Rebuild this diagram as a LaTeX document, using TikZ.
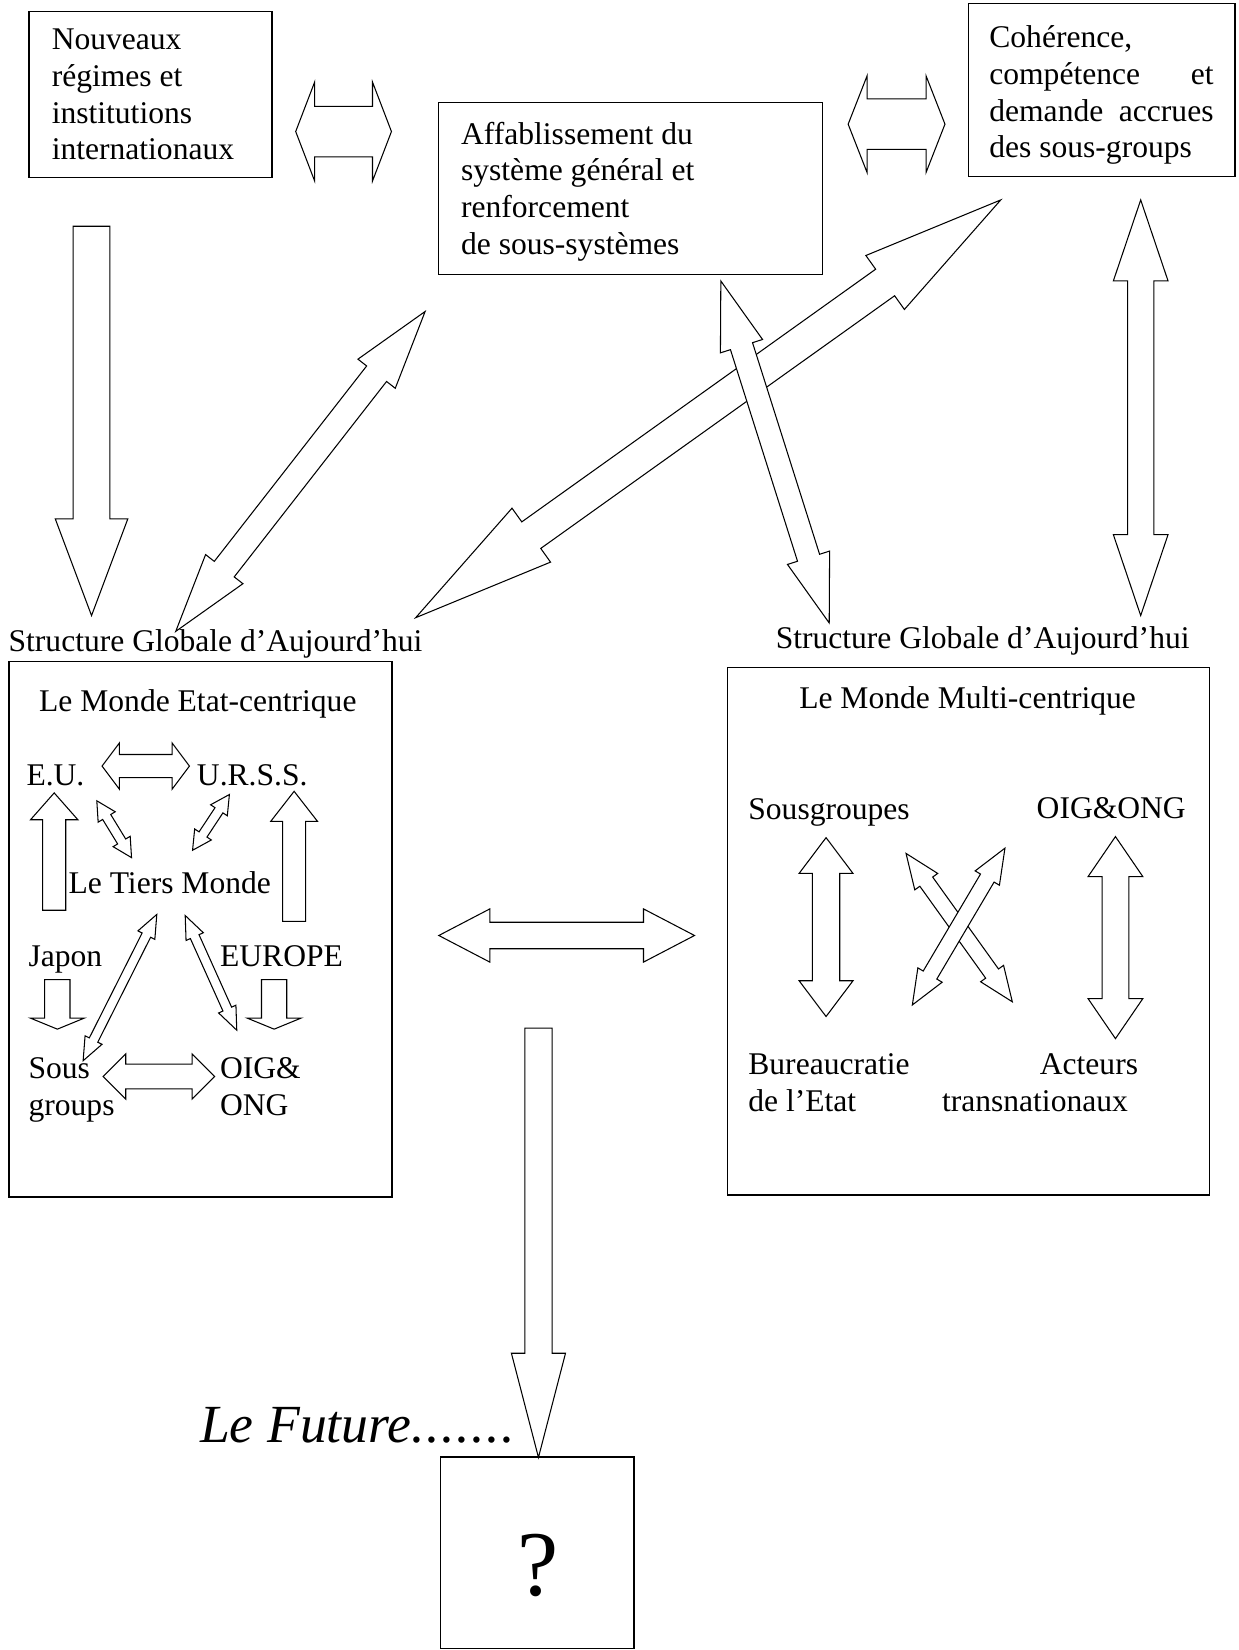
\documentclass[tikz,border=0pt]{standalone}
\usepackage{fontspec}
\setmainfont{Liberation Serif}
\usetikzlibrary{calc}
% double block arrow between two named coordinates
% #1,#2 tips; #3 head length; #4 head half width; #5 shaft half width
\newcommand{\dblarr}[5]{%
  \coordinate (ha) at ($(#1)!#3pt!(#2)$);
  \coordinate (hb) at ($(#2)!#3pt!(#1)$);
  \draw[arr] (#1) -- ($(ha)!#4pt!90:(#2)$) -- ($(ha)!#5pt!90:(#2)$)
    -- ($(hb)!#5pt!-90:(#1)$) -- ($(hb)!#4pt!-90:(#1)$) -- (#2)
    -- ($(hb)!#4pt!90:(#1)$) -- ($(hb)!#5pt!90:(#1)$)
    -- ($(ha)!#5pt!-90:(#2)$) -- ($(ha)!#4pt!-90:(#2)$) -- cycle;
}
% single block arrow: #1 tail, #2 tip
\newcommand{\sglarr}[5]{%
  \coordinate (hb) at ($(#2)!#3pt!(#1)$);
  \draw[arr] (#2) -- ($(hb)!#4pt!90:(#1)$) -- ($(hb)!#5pt!90:(#1)$)
    -- ($(#1)!#5pt!-90:(#2)$) -- ($(#1)!#5pt!90:(#2)$)
    -- ($(hb)!#5pt!-90:(#1)$) -- ($(hb)!#4pt!-90:(#1)$) -- cycle;
}
\newcommand{\sdot}{.\kern1.5pt}
\begin{document}
\begin{tikzpicture}[x=1pt,y=-1pt,
  box/.style={draw, line width=1.1pt, inner sep=0pt, anchor=north west},
  arr/.style={draw, fill=white, line width=1pt, line join=miter},
  txt/.style={inner sep=0pt, anchor=base west, font=\fontsize{30}{35}\selectfont},
]
\useasboundingbox (0,0) rectangle (1177,1568);

% ---------- boxes ----------
\node[box, minimum width=231pt, minimum height=158pt] (b1) at (27,10) {};
\node[box, minimum width=365pt, minimum height=163pt] (b2) at (416,97) {};
\node[box, minimum width=253pt, minimum height=164pt] (b3) at (920,3) {};
\node[box, minimum width=364pt, minimum height=509pt] (lbox) at (8,628) {};
\node[box, minimum width=458pt, minimum height=501pt] (rbox) at (691,634) {};
\node[box, minimum width=184pt, minimum height=182pt] (qbox) at (418,1384) {};

% ---------- texts ----------
\node[txt] (t1) at (49,47) {\parbox[t]{220pt}{Nouveaux\\régimes et\\institutions\\internationaux}};
\node[txt] (t2) at (438,137) {\parbox[t]{340pt}{Affablissement du\\système général et\\renforcement\\de sous-systèmes}};
\node[txt] (t3) at (940,45) {\parbox[t]{213pt}{Cohérence,\\compétence\hfill et\\demande\hfill accrues\\des sous-groups}};

\node[txt] (sgl) at (8,619) {Structure Globale d’Aujourd’hui};
\node[txt] (sgr) at (737,616) {Structure Globale d’Aujourd’hui};

\node[txt, anchor=base] (etat) at (188,676) {Le Monde Etat-centrique};
\node[txt, anchor=base] (multi) at (919.5,673) {Le Monde Multi-centrique};

\node[txt] (eu) at (25,746) {E.U.};
\node[txt] (urss) at (187,746) {U.R.S.S.};
\node[txt] (tiers) at (65,849) {Le Tiers Monde};
\node[txt] (japon) at (27,918) {Japon};
\node[txt] (europe) at (209,918) {EUROPE};
\node[txt] (sous) at (27,1025) {\parbox[t]{90pt}{Sous\\groups}};
\node[txt] (oigl) at (209,1025) {\parbox[t]{90pt}{OIG\&\\ONG}};

\node[txt] (sousg) at (711,779) {Sousgroupes};
\node[txt] (oigr) at (985,778) {OIG\&ONG};
\node[txt] (bureau) at (711,1021) {\parbox[t]{170pt}{Bureaucratie\\de l’Etat}};
\node[txt] (acteurs) at (988,1021) {Acteurs};
\node[txt] (transn) at (895,1056) {transnationaux};

\node[inner sep=0pt, anchor=base west, font=\fontsize{51}{60}\selectfont\itshape] (future) at (190,1371) {Le Future\sdot\sdot\sdot\sdot\sdot\sdot.};
\node[inner sep=0pt, font=\fontsize{88}{92}\selectfont] (q) at (511,1488) {?};

% ---------- arrow end points ----------
\coordinate (a1l) at (281,125);  \coordinate (a1r) at (372,125);
\coordinate (a2l) at (806,118);  \coordinate (a2r) at (898,118);
\coordinate (a3t) at (87,215);   \coordinate (a3h) at (87,585);
\coordinate (a4u) at (404,296);  \coordinate (a4d) at (167,600);
\coordinate (a5u) at (951,190);  \coordinate (a5d) at (395,587);
\coordinate (a6u) at (685,267);  \coordinate (a6d) at (788,592);
\coordinate (a7u) at (1084,190); \coordinate (a7d) at (1084,585);
\coordinate (a8l) at (97,728);   \coordinate (a8r) at (180,728);
\coordinate (a9u) at (92,761);   \coordinate (a9d) at (125,815);
\coordinate (a10u) at (218,755); \coordinate (a10d) at (183,808);
\coordinate (a11t) at (51.5,865); \coordinate (a11h) at (51.5,753.5);
\coordinate (a12t) at (279.5,875.5); \coordinate (a12h) at (279.5,752);
\coordinate (a13t) at (54.5,931); \coordinate (a13h) at (54.5,978);
\coordinate (a14t) at (260.5,931); \coordinate (a14h) at (260.5,978);
\coordinate (a15u) at (149,869); \coordinate (a15d) at (79,1008);
\coordinate (a16u) at (176,870); \coordinate (a16d) at (225,979);
\coordinate (a17l) at (98,1023); \coordinate (a17r) at (204,1023);
\coordinate (a18l) at (417,889); \coordinate (a18r) at (660,889);
\coordinate (a19u) at (785,796); \coordinate (a19d) at (785,966);
\coordinate (a20u) at (1060,795); \coordinate (a20d) at (1060,987);
\coordinate (a21u) at (861,811); \coordinate (a21d) at (962,952);
\coordinate (a22u) at (955,806); \coordinate (a22d) at (867,955);
\coordinate (a23t) at (511.7,977); \coordinate (a23h) at (511.7,1385);

% ---------- arrows ----------
\dblarr{a1l}{a1r}{18}{47}{24}
\dblarr{a2l}{a2r}{18}{46}{24}
\sglarr{a3t}{a3h}{92}{34.5}{17.5}
\dblarr{a4u}{a4d}{75}{22.5}{12}
\dblarr{a5u}{a5d}{135}{31.5}{15.5}
\dblarr{a6u}{a6d}{65}{21}{11}
\dblarr{a7u}{a7d}{77}{26}{12.5}
\dblarr{a8l}{a8r}{16.5}{22}{11}
\dblarr{a9u}{a9d}{18}{9.5}{4.5}
\dblarr{a10u}{a10d}{18}{9.5}{4.5}
\sglarr{a11t}{a11h}{25.5}{22.5}{11}
\sglarr{a12t}{a12h}{28.5}{22.2}{11}
\sglarr{a13t}{a13h}{10.5}{25.6}{12}
\sglarr{a14t}{a14h}{10.5}{25.6}{12}
\dblarr{a15u}{a15d}{22}{9}{4.5}
\dblarr{a16u}{a16d}{22}{9}{4.5}
\dblarr{a17l}{a17r}{21.5}{21.5}{11.8}
\dblarr{a18l}{a18r}{48.5}{25.3}{12.6}
\dblarr{a19u}{a19d}{34}{25.6}{13}
\dblarr{a20u}{a20d}{38}{26}{12.7}
\dblarr{a21u}{a21d}{33}{13.4}{7.5}
\dblarr{a22u}{a22d}{33}{13.4}{7.5}
\sglarr{a23t}{a23h}{99}{25.7}{13}
\end{tikzpicture}
\end{document}
